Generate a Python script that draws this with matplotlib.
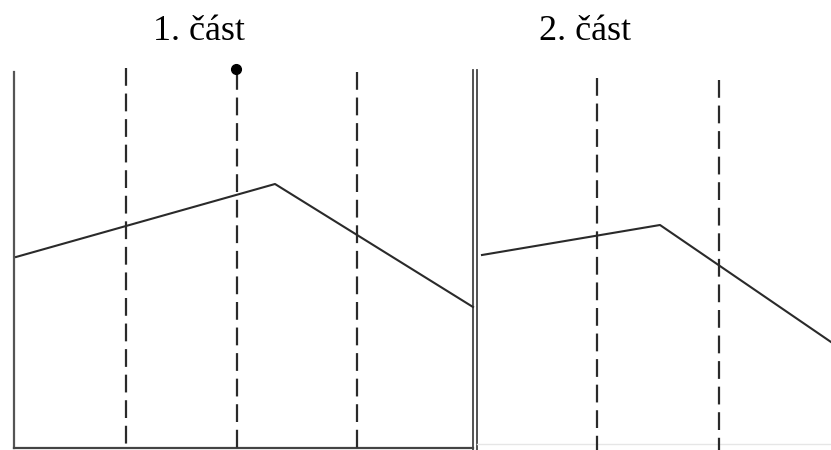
import matplotlib.pyplot as plt

# nadpisy
titles = ['1. část', '2. část']
title_x = [199, 585]

# lomená čára (x, y v pixelech obrázku)
part1_x = [16, 275, 473]
part1_y = [257, 184, 307]
part2_x = [482, 660, 831]
part2_y = [255, 225, 342]

# svislé čárkované čáry
dash_x1 = [126, 237, 357]
dash_x2 = [597, 719]
dash_top = [68, 72, 72, 78, 80]

# bod nahoře
dot_x, dot_y = 236, 69

fig = plt.figure(figsize=(8.31, 4.5), dpi=100)
ax = fig.add_axes([0, 0, 1, 1])
ax.set_xlim(0, 831)
ax.set_ylim(450, 0)
ax.axis('off')

ink = '#2a2a2a'

# osy 1. části
ax.plot([14, 14], [72, 448], color='#555555', lw=1.6)
ax.plot([14, 473], [448, 448], color='#444444', lw=1.6)
# dvojitá čára mezi částmi
ax.plot([473, 473], [70, 450], color='#444444', lw=1.3)
ax.plot([477, 477], [70, 450], color='#444444', lw=1.3)
# slabá spodní čára 2. části
ax.plot([477, 831], [444, 444], color='#e6e6e6', lw=1.0)

for x, top in zip(dash_x1 + dash_x2, dash_top):
    ax.plot([x, x], [top, 450], color=ink, lw=1.6, dashes=(8, 3.5))

ax.plot(part1_x, part1_y, color=ink, lw=1.5)
ax.plot(part2_x, part2_y, color=ink, lw=1.5)
ax.plot(dot_x, dot_y, 'o', color='black', ms=7)

for t, x in zip(titles, title_x):
    ax.text(x, 31, t, ha='center', va='center', fontsize=26,
            family='Liberation Serif', color='black')

fig.savefig('out.png', dpi=100)
